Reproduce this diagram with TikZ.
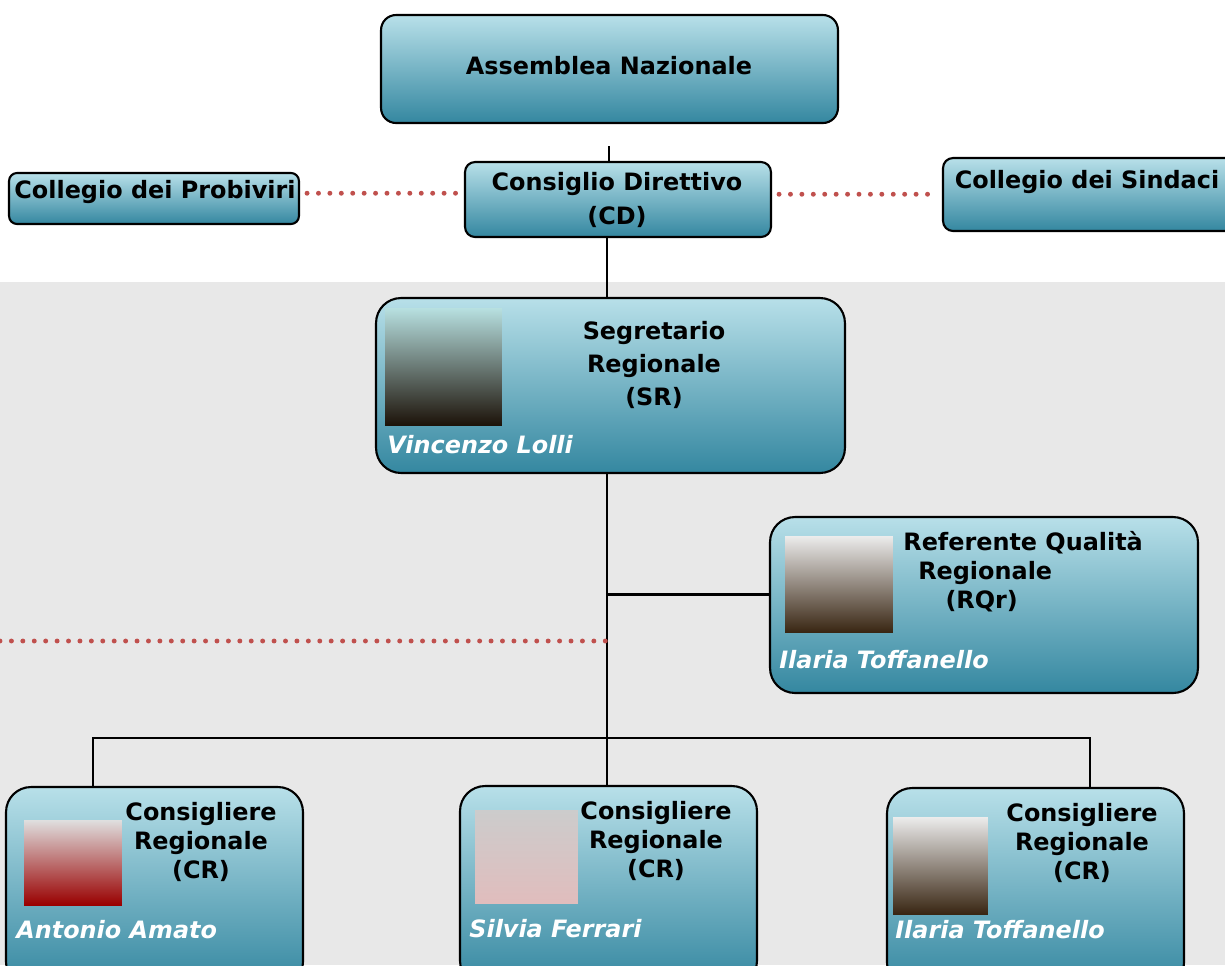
\documentclass[tikz,border=0pt]{standalone}
\usepackage{fontspec}
\setmainfont{DejaVu Sans}
\usepackage{tikz}
\usetikzlibrary{positioning,calc}
\definecolor{boxtop}{RGB}{184,224,233}
\definecolor{boxmid}{RGB}{155,206,219}
\definecolor{boxbot}{RGB}{52,135,160}
\definecolor{sfondo}{RGB}{232,232,232}
\definecolor{punti}{RGB}{192,80,77}

\begin{document}
\begin{tikzpicture}[x=0.02cm,y=-0.02cm,
    box/.style={draw=black,line width=1.2pt,top color=boxtop,middle color=boxmid,bottom color=boxbot,inner sep=0pt},
    txt/.style={font=\fontsize{13.6}{16.5}\selectfont\bfseries,align=center,inner sep=0pt},
    nome/.style={font=\fontsize{13.6}{16.5}\selectfont\bfseries\itshape,text=white,anchor=west,inner sep=0pt},
    foto/.style={inner sep=0pt},
    link/.style={draw=black,line width=1.2pt},
    punt/.style={draw=punti,line width=2.8pt,line cap=round,dash pattern=on 0pt off 6.5pt}]
  \clip (0,0) rectangle (1225,965);
  \fill[white] (0,0) rectangle (1225,282);
  \fill[sfondo] (0,282) rectangle (1225,965);%area regionale
  % caselle
  \node[box,minimum width=9.14cm,minimum height=2.16cm,rounded corners=0.3cm] (an) at (609.5,69) {};
  \node[box,minimum width=6.12cm,minimum height=1.5cm,rounded corners=0.2cm] (cd) at (618,199.5) {};
  \node[box,minimum width=5.8cm,minimum height=1.02cm,rounded corners=0.16cm] (pb) at (154,198.5) {};
  \node[box,minimum width=6cm,minimum height=1.46cm,rounded corners=0.2cm] (cs) at (1093,194.5) {};
  \node[box,minimum width=9.38cm,minimum height=3.5cm,rounded corners=0.5cm] (sr) at (610.5,385.5) {};
  \node[box,minimum width=8.56cm,minimum height=3.52cm,rounded corners=0.5cm] (rq) at (984,605) {};
  \node[box,minimum width=5.94cm,minimum height=4cm,rounded corners=0.5cm] (cr1) at (154.5,887) {};
  \node[box,minimum width=5.94cm,minimum height=4cm,rounded corners=0.5cm] (cr2) at (608.5,886) {};
  \node[box,minimum width=5.94cm,minimum height=4cm,rounded corners=0.5cm] (cr3) at (1035.5,888) {};
  % foto
  \node[foto,minimum width=2.34cm,minimum height=2.34cm,top color=gray!60!cyan!40,bottom color=black!85!brown] (srf) at (443.5,366.5) {};
  \node[foto,minimum width=2.16cm,minimum height=1.92cm,top color=gray!15,middle color=brown!50!gray!70,bottom color=black!70!brown] (rqf) at (839,584) {};
  \node[foto,minimum width=1.96cm,minimum height=1.7cm,top color=gray!25,middle color=brown!40!gray!60,bottom color=red!60!black] (cr1f) at (73,862.5) {};
  \node[foto,minimum width=2.06cm,minimum height=1.86cm,top color=gray!40,middle color=black!60!brown,bottom color=pink!70!gray!80] (cr2f) at (526.5,857) {};
  \node[foto,minimum width=1.9cm,minimum height=1.94cm,top color=gray!15,middle color=brown!50!gray!70,bottom color=black!70!brown] (cr3f) at (940.5,865.5) {};
  % testi
  \node[txt] (ant) at (609,66) {Assemblea Nazionale};
  \node[txt,font=\fontsize{13.6}{19}\selectfont\bfseries] (cdt) at (617,200) {Consiglio Direttivo\\(CD)};
  \node[txt] (pbt) at (155,192) {Collegio dei Probiviri};
  \node[txt] (cst) at (1087,182) {Collegio dei Sindaci};
  \node[txt,font=\fontsize{13.6}{19}\selectfont\bfseries] (srt) at (654,365) {Segretario\\Regionale\\(SR)};
  \node[nome] (srn) at (387,445) {Vincenzo Lolli};
  \node[txt,align=left,anchor=west] (rqt) at (903,572) {Referente Qualità\\\hspace*{8.5pt}Regionale\\\hspace*{24pt}(RQr)};
  \node[nome] (rqn) at (779,660) {Ilaria Toffanello};
  \node[txt] (cr1t) at (201,842) {Consigliere\\Regionale\\(CR)};
  \node[txt] (cr2t) at (656,841) {Consigliere\\Regionale\\(CR)};
  \node[txt] (cr3t) at (1082,843) {Consigliere\\Regionale\\(CR)};
  \node[nome] (cr1n) at (16,930) {Antonio Amato};
  \node[nome] (cr2n) at (469,929) {Silvia Ferrari};
  \node[nome] (cr3n) at (895,930) {Ilaria Toffanello};
  % collegamenti
  \coordinate (ch) at (609,146);
  \coordinate (tr) at (607,0);
  \coordinate (b1) at (93,738);
  \coordinate (b3) at (1090,738);
  \coordinate (dl) at (0,641);
  \coordinate (rqin) at ([yshift=6pt]rq.west);
  \draw[link] (ch) -- (ch |- cd.north);
  \draw[link] (tr |- cd.south) -- (tr |- sr.north);
  \draw[link] (tr |- sr.south) -- (tr |- cr2.north);
  \draw[link] (tr |- rqin) -- (rqin);
  \draw[link] (b1 |- cr1.north) -- (b1) -- (b3) -- (b3 |- cr3.north);
  \draw[punt,shorten <=4pt,shorten >=4pt] ([yshift=3pt]pb.east) -- ([yshift=3pt]pb.east -| cd.west);
  \draw[punt,shorten <=4pt,shorten >=4pt] ([yshift=3pt]cd.east) -- ([yshift=3pt]cd.east -| cs.west);
  \draw[punt] (dl) -- (dl -| tr);
\end{tikzpicture}
\end{document}
